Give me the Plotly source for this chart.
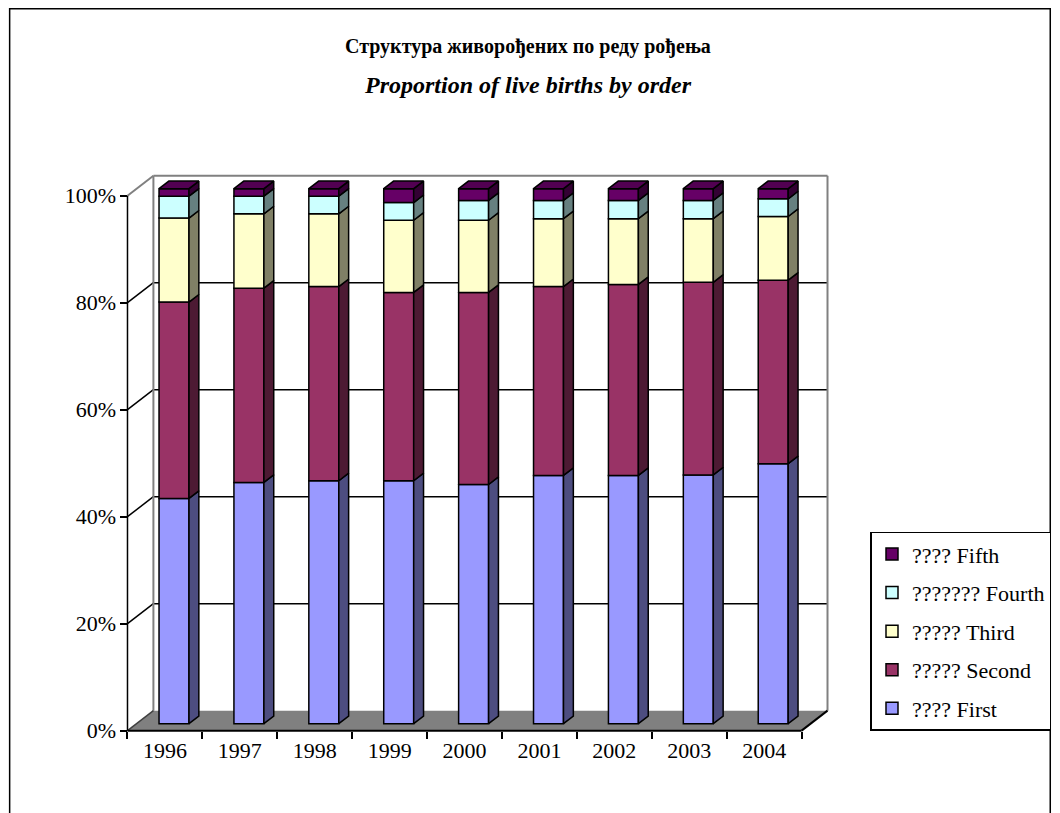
import plotly.graph_objects as go

years = ["1996", "1997", "1998", "1999", "2000", "2001", "2002", "2003", "2004"]
first = [42.1, 45.1, 45.4, 45.4, 44.7, 46.4, 46.4, 46.5, 48.6]
second = [36.7, 36.3, 36.3, 35.2, 35.9, 35.3, 35.7, 36.0, 34.3]
third = [15.7, 13.9, 13.6, 13.5, 13.5, 12.7, 12.3, 11.9, 11.9]
fourth = [4.1, 3.3, 3.3, 3.3, 3.7, 3.4, 3.4, 3.4, 3.3]
fifth = [1.4, 1.4, 1.4, 2.6, 2.2, 2.2, 2.2, 2.2, 1.9]
series_names = ["???? First", "????? Second", "????? Third", "??????? Fourth", "???? Fifth"]
y_ticks = [0, 20, 40, 60, 80, 100]

FRONT_COLORS = ["#9999FF", "#993366", "#FFFFCC", "#CCFFFF", "#660066"]
SIDE_COLORS = ["#4D4D80", "#4D1A33", "#808066", "#668080", "#330033"]
TOP_COLOR = "#520052"
FONT = "Liberation Serif, Times New Roman, serif"

# fake 3d: depth offset of the back wall, in axis units
DX, DY = 0.346, 3.74
D1, D2 = 0.35, 0.73      # front / back depth of the columns
BAR_W = 0.4

PAGE_OFF = 8             # body margin of the html page
W, H = 1060 - PAGE_OFF, 813 - PAGE_OFF
PXU, PXV = 75.0, 5.35    # pixels per x unit / per percent
X0_PX, Y0_PX = 127, 731  # screen pixel of (-0.5, 0)
XR = [-0.6, 8.5 + DX + 0.06]
YR = [-1.0, 100 + DY + 0.5]
L = X0_PX - PAGE_OFF - (-0.5 - XR[0]) * PXU
R = W - (X0_PX - PAGE_OFF + (XR[1] + 0.5) * PXU)
B = H - (Y0_PX - PAGE_OFF + (0 - YR[0]) * PXV)
T = Y0_PX - PAGE_OFF - (YR[1] * PXV)
PW, PH = W - L - R, H - T - B


def px_x(p):
    return (p - PAGE_OFF - L) / PW


def px_y(p):
    return (H - B - (p - PAGE_OFF)) / PH


series = [first, second, third, fourth, fifth]
n = len(years)
totals = [sum(s[i] for s in series) for i in range(n)]
pct = [[s[i] / totals[i] * 100 for i in range(n)] for s in series]

fig = go.Figure()

bar_x = [i + D1 * DX for i in range(n)]
oy1, oy2 = D1 * DY, D2 * DY
ddx = (D2 - D1) * DX
cum = [0.0] * n
for k, vals in enumerate(pct):
    bases = [c + oy1 for c in cum]
    fig.add_trace(go.Bar(
        x=bar_x, y=vals, base=bases, width=BAR_W,
        name=series_names[k], legendgroup=series_names[k], legendrank=len(pct) - k,
        marker=dict(color=FRONT_COLORS[k], line=dict(color="black", width=1.5)),
        hoverinfo="skip",
    ))
    sx, sy = [], []
    for i in range(n):
        xr = bar_x[i] + BAR_W / 2
        lo, hi = cum[i], cum[i] + vals[i]
        sx += [xr, xr + ddx, xr + ddx, xr, xr, None]
        sy += [lo + oy1, lo + oy2, hi + oy2, hi + oy1, lo + oy1, None]
    fig.add_trace(go.Scatter(
        x=sx, y=sy, mode="lines", fill="toself", fillcolor=SIDE_COLORS[k],
        line=dict(color="black", width=1.5), showlegend=False, hoverinfo="skip",
    ))
    cum = [cum[i] + vals[i] for i in range(n)]

# top faces
tx, ty = [], []
for i in range(n):
    xl, xr = bar_x[i] - BAR_W / 2, bar_x[i] + BAR_W / 2
    top = cum[i]
    tx += [xl, xr, xr + ddx, xl + ddx, xl, None]
    ty += [top + oy1, top + oy1, top + oy2, top + oy2, top + oy1, None]
fig.add_trace(go.Scatter(
    x=tx, y=ty, mode="lines", fill="toself", fillcolor=TOP_COLOR,
    line=dict(color="black", width=1.5), showlegend=False, hoverinfo="skip",
))

x_lo, x_hi = -0.5, n - 0.5
shapes = [
    dict(type="path", layer="below", fillcolor="#808080", line=dict(width=0),
         path=f"M {x_lo},0 L {x_hi},0 L {x_hi + DX},{DY} L {x_lo + DX},{DY} Z"),
]
for v in y_ticks[1:-1]:
    shapes.append(dict(type="line", layer="below", x0=x_lo + DX, x1=x_hi + DX, y0=v + DY, y1=v + DY,
                       line=dict(color="black", width=1.5)))
    shapes.append(dict(type="line", layer="below", x0=x_lo, x1=x_lo + DX, y0=v, y1=v + DY,
                       line=dict(color="black", width=1.5)))
top = y_ticks[-1]
gray = dict(color="#808080", width=2)
shapes += [
    dict(type="line", layer="below", x0=x_lo + DX, x1=x_hi + DX, y0=top + DY, y1=top + DY, line=gray),
    dict(type="line", layer="below", x0=x_hi + DX, x1=x_hi + DX, y0=DY, y1=top + DY, line=gray),
    dict(type="line", layer="below", x0=x_lo + DX, x1=x_lo + DX, y0=DY, y1=top + DY, line=gray),
    dict(type="line", layer="below", x0=x_lo, x1=x_lo + DX, y0=top, y1=top + DY, line=gray),
    dict(type="line", layer="below", x0=x_lo, x1=x_lo + DX, y0=0, y1=DY,
         line=dict(color="#404040", width=1.5)),
    dict(type="line", layer="below", x0=x_lo, x1=x_lo, y0=0, y1=top,
         line=dict(color="black", width=1.5)),
    dict(type="line", x0=x_lo, x1=x_hi, y0=0, y1=0, line=dict(color="black", width=2)),
    dict(type="line", x0=x_hi, x1=x_hi + DX, y0=0, y1=DY, line=dict(color="black", width=2)),
    # chart border
    dict(type="rect", xref="paper", yref="paper", x0=px_x(9), x1=px_x(1051),
         y0=px_y(830), y1=px_y(9), line=dict(color="black", width=1.5)),
]

fig.update_layout(
    width=W, height=H,
    margin=dict(l=L, r=R, t=T, b=B, autoexpand=False),
    paper_bgcolor="white", plot_bgcolor="white",
    font=dict(family=FONT, size=22, color="black"),
    barmode="overlay",
    showlegend=True,
    shapes=shapes,
    xaxis=dict(
        range=XR, showgrid=False, zeroline=False, showline=False,
        tickmode="array", tickvals=list(range(n)), ticktext=years,
        ticks="outside", ticklen=0, tickfont=dict(family=FONT, size=22),
        minor=dict(tick0=-0.5, dtick=1, ticks="outside", ticklen=7, tickcolor="black", tickwidth=1.5),
        anchor="free", position=(0 - YR[0]) / (YR[1] - YR[0]),
    ),
    yaxis=dict(
        range=YR, showgrid=False, zeroline=False, showline=False,
        tickmode="array", tickvals=y_ticks, ticktext=[f"{v}%" for v in y_ticks],
        ticks="outside", ticklen=7, tickcolor="black", tickwidth=1.5,
        tickfont=dict(family=FONT, size=22),
        anchor="free", position=(-0.5 - XR[0]) / (XR[1] - XR[0]),
    ),
    legend=dict(
        x=px_x(871), y=px_y(731), xanchor="left", yanchor="bottom",
        traceorder="grouped", tracegroupgap=7,
        bordercolor="black", borderwidth=1.5, bgcolor="white",
        font=dict(family=FONT, size=22, color="black"), itemwidth=30,
    ),
    annotations=[
        dict(text="<b>Структура живорођених по реду рођења</b>", xref="paper", yref="paper",
             x=px_x(528), y=px_y(47), xanchor="center", yanchor="middle",
             showarrow=False, font=dict(family=FONT, size=20)),
        dict(text="<b><i>Proportion of live births by order</i></b>", xref="paper", yref="paper",
             x=px_x(528), y=px_y(85), xanchor="center", yanchor="middle",
             showarrow=False, font=dict(family=FONT, size=24)),
    ],
)

fig.write_html("out.html")
